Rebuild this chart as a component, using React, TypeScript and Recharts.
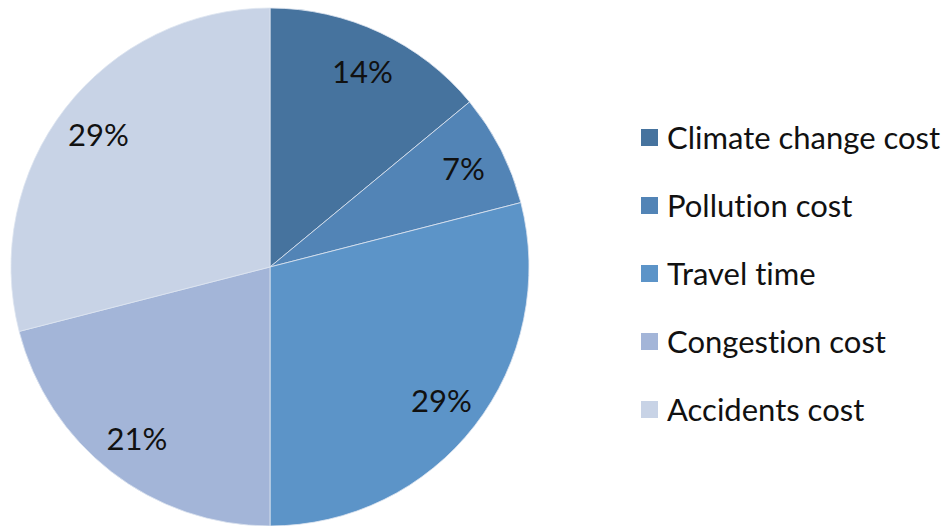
import { PieChart, Pie, Cell } from "recharts";

const categories = [
  "Climate change cost",
  "Pollution cost",
  "Travel time",
  "Congestion cost",
  "Accidents cost",
];
const shares = [14, 7, 29, 21, 29];
const colors = ["#46739e", "#5284b6", "#5c94c8", "#a3b5d8", "#c8d3e6"];

const data = categories.map((name, i) => ({ name, value: shares[i] }));

const RADIAN = Math.PI / 180;
const FONT = "Lato, 'Open Sans', sans-serif";

function renderLabel(props: any) {
  const { cx, cy, midAngle, value } = props;
  const r = 217;
  const x = cx + r * Math.cos(-midAngle * RADIAN);
  const y = cy + r * Math.sin(-midAngle * RADIAN);
  return (
    <text
      x={x}
      y={y}
      fill="#111"
      fontSize={31}
      fontFamily={FONT}
      textAnchor="middle"
      dominantBaseline="central"
    >
      {value}%
    </text>
  );
}

export default function App() {
  return (
    <div style={{ position: "relative", width: 950, height: 526, background: "#fff" }}>
      <style>{`body{margin:0}`}</style>
      <PieChart width={950} height={526} margin={{ top: 0, right: 0, bottom: 0, left: 0 }}>
        <Pie
          data={data}
          dataKey="value"
          nameKey="name"
          cx={270}
          cy={267}
          outerRadius={259}
          startAngle={90}
          endAngle={-270}
          stroke="#dde5f0"
          strokeWidth={0.8}
          label={renderLabel}
          labelLine={false}
          isAnimationActive={false}
        >
          {data.map((d, i) => (
            <Cell key={d.name} fill={colors[i]} />
          ))}
        </Pie>
      </PieChart>
      {/* legend on the right, one row per slice */}
      <div
        style={{
          position: "absolute",
          left: 641,
          top: 103,
          fontFamily: FONT,
          fontSize: 31,
          color: "#111",
          whiteSpace: "nowrap",
          fontVariantLigatures: "none",
        }}
      >
        {categories.map((name, i) => (
          <div key={name} style={{ height: 68, display: "flex", alignItems: "center" }}>
            <span
              style={{
                width: 17,
                height: 17,
                background: colors[i],
                display: "inline-block",
                marginRight: 9,
              }}
            />
            <span>{name}</span>
          </div>
        ))}
      </div>
    </div>
  );
}
